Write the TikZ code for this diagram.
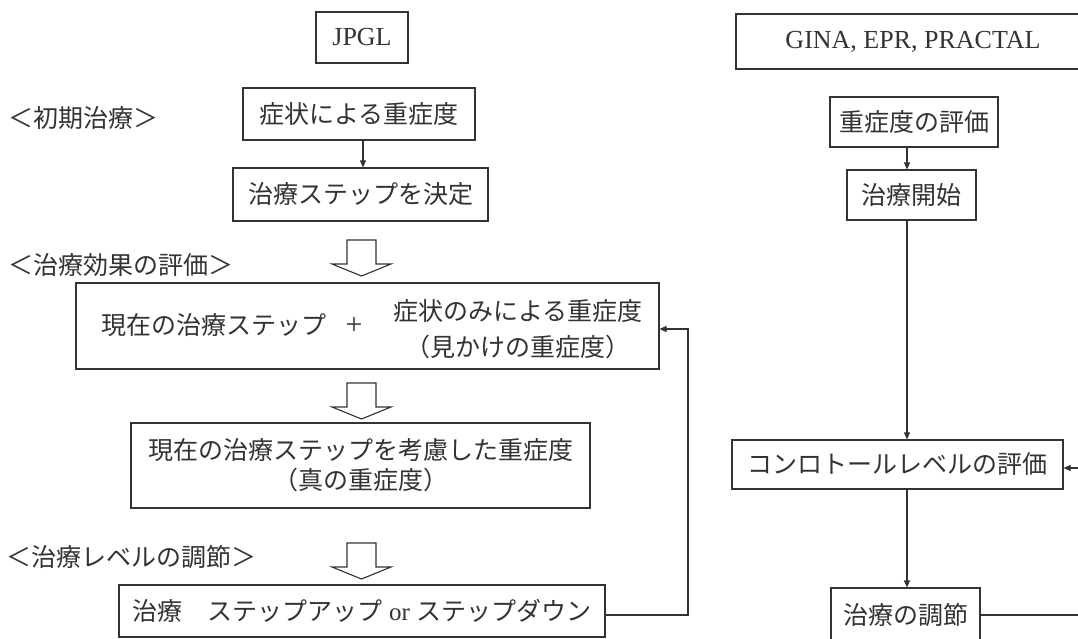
\documentclass[tikz,border=0pt]{standalone}
\usepackage{fontspec}
\setmainfont{Liberation Serif}
\newfontfamily\jp{Noto Sans CJK JP}
\usetikzlibrary{arrows.meta}
\definecolor{ink}{gray}{0.2}
\tikzset{
  jpf/.style={font=\jp\fontsize{25}{30}\selectfont},
  box/.style={draw=ink, line width=1.1pt, inner sep=0pt, jpf, align=center, text=ink},
  lbl/.style={anchor=west, inner sep=0pt, jpf, text=ink},
  arr/.style={draw=ink, line width=1.1pt, -{Triangle[length=7pt,width=6pt]}},
  hollow/.style={draw=ink, line width=1.1pt, fill=white, line join=miter},
  blockarrow/.pic={\draw[hollow] (-14.5,0) -- (14.5,0) -- (14.5,24) -- (29.5,24) -- (0,36) -- (-29.5,24) -- (-14.5,24) -- cycle;}
}
\begin{document}
\begin{tikzpicture}[x=1pt,y=-1pt]
\useasboundingbox (0,0) rectangle (1078,638);
\fill[white] (0,0) rectangle (1078,638);

% ---- left column (JPGL)
\node[box, minimum width=92pt, minimum height=51pt, font=\fontsize{26}{30}\selectfont] (jpgl) at (362,37.5) {JPGL};
\node[box, minimum width=232pt, minimum height=52pt] (b1) at (359,114) {症状による重症度};
\node[box, minimum width=255pt, minimum height=53pt] (b2) at (360.5,194.5) {治療ステップを決定};
\node[box, minimum width=583pt, minimum height=86pt] (b3) at (367.5,326) {};
\node[lbl] (t3a) at (101,325) {現在の治療ステップ};
\node[inner sep=0pt, text=ink, font=\fontsize{30}{30}\selectfont] (t3p) at (354,326) {+};
\node[inner sep=0pt, text=ink, align=center, font=\jp\fontsize{25}{36}\selectfont] (t3b) at (518,329) {症状のみによる重症度\\（見かけの重症度）};
\node[box, minimum width=459pt, minimum height=85pt] (b4) at (360.5,465.5) {現在の治療ステップを考慮した重症度\\（真の重症度）};
\node[box, minimum width=486pt, minimum height=52pt] (b5) at (362,611) {治療　ステップアップ\hspace{7pt}{\rmfamily or}\hspace{7pt}ステップダウン};

\node[lbl] (l1) at (8,118) {＜初期治療＞};
\node[lbl] (l2) at (8,265) {＜治療効果の評価＞};
\node[lbl] (l3) at (6,557) {＜治療レベルの調節＞};

\draw[arr] ([xshift=4pt]b1.south) -- ([xshift=2.5pt]b2.north);
\pic at (361.5,240) {blockarrow};
\pic at (361.5,383) {blockarrow};
\pic at (361.5,543) {blockarrow};

\coordinate (fb) at (688,329);
\draw[arr] ([yshift=-4pt]b5.east) -| (fb) -- (fb -| b3.east);

% ---- right column (GINA, EPR, PRACTAL)
\node[box, minimum width=354pt, minimum height=55pt, font=\fontsize{26}{30}\selectfont] (gina) at (913,41.5) {GINA, EPR, PRACTAL};
\node[box, minimum width=168pt, minimum height=50pt] (r1) at (914,122) {重症度の評価};
\node[box, minimum width=129pt, minimum height=50pt] (r2) at (911.5,195) {治療開始};
\node[box, minimum width=331pt, minimum height=49pt] (r3) at (897.5,464.5) {コンロトールレベルの評価};
\node[box, minimum width=149pt, minimum height=54pt] (r4) at (905.5,615) {治療の調節};
\coordinate (rx) at (907,0);
\draw[arr] (r1.south -| rx) -- (r2.north -| rx);
\draw[arr] (r2.south -| rx) -- (r3.north -| rx);
\draw[arr] (r3.south -| rx) -- (r4.north -| rx);
\coordinate (rfb) at (1100,468);
\draw[arr] (r4.east) -| (rfb) -- (rfb -| r3.east);
\end{tikzpicture}
\end{document}
